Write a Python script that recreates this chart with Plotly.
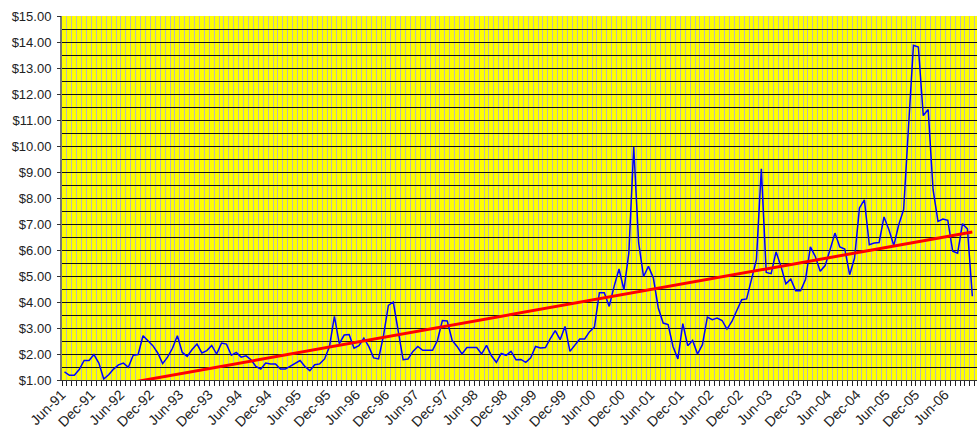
import numpy as np
import plotly.graph_objects as go

# Monthly prices, Jun-91 onwards (one value per month)
prices = [
    1.31, 1.18, 1.18, 1.40, 1.75, 1.75, 1.98, 1.65, 1.04, 1.20,
    1.42, 1.58, 1.65, 1.49, 1.95, 1.98, 2.70, 2.51, 2.32, 2.04,
    1.63, 1.88, 2.22, 2.70, 2.06, 1.91, 2.17, 2.38, 2.04, 2.13,
    2.33, 2.00, 2.42, 2.38, 1.95, 2.06, 1.88, 1.93, 1.78, 1.52,
    1.42, 1.65, 1.62, 1.62, 1.42, 1.42, 1.52, 1.65, 1.75, 1.52,
    1.36, 1.59, 1.62, 1.81, 2.29, 3.45, 2.40, 2.73, 2.75, 2.22,
    2.32, 2.61, 2.29, 1.85, 1.81, 2.70, 3.87, 4.00, 2.93, 1.78,
    1.81, 2.10, 2.29, 2.14, 2.14, 2.14, 2.52, 3.29, 3.27, 2.52,
    2.29, 2.00, 2.25, 2.25, 2.25, 2.00, 2.33, 1.93, 1.68, 2.02,
    1.95, 2.10, 1.78, 1.79, 1.68, 1.85, 2.29, 2.23, 2.25, 2.59,
    2.90, 2.55, 3.06, 2.10, 2.36, 2.58, 2.58, 2.86, 3.04, 4.36,
    4.36, 3.83, 4.60, 5.27, 4.47, 5.88, 9.96, 6.27, 4.98, 5.37,
    4.92, 3.77, 3.19, 3.13, 2.29, 1.81, 3.17, 2.32, 2.52, 2.00,
    2.36, 3.42, 3.32, 3.38, 3.29, 2.96, 3.25, 3.70, 4.09, 4.12,
    4.86, 5.63, 9.12, 5.14, 5.09, 5.93, 5.37, 4.70, 4.88, 4.43,
    4.43, 4.86, 6.12, 5.75, 5.18, 5.40, 6.01, 6.65, 6.12, 6.04,
    5.05, 5.69, 7.62, 7.93, 6.20, 6.27, 6.29, 7.27, 6.78, 6.17,
    6.97, 7.55, 10.75, 13.87, 13.81, 11.17, 11.40, 8.32, 7.10, 7.19,
    7.14, 5.95, 5.88, 7.01, 6.81, 4.22,
]

month_names = ["Jan", "Feb", "Mar", "Apr", "May", "Jun",
               "Jul", "Aug", "Sep", "Oct", "Nov", "Dec"]
start_year, start_month = 1991, 6
months = []
for k in range(len(prices)):
    m = start_month - 1 + k
    y = start_year + m // 12
    months.append(f"{month_names[m % 12]}-{y % 100:02d}")

tick_labels = months[::6]
y_tick_values = list(range(1, 16))
y_tick_labels = [f"${v:.2f}" for v in y_tick_values]
y_grid_values = [v / 2 for v in range(3, 30)]  # $1.50 ... $14.50

idx = np.arange(len(prices))
slope, intercept = np.polyfit(idx, np.array(prices), 1)
trend = slope * idx + intercept

fig = go.Figure()
fig.add_trace(go.Scatter(
    x=idx, y=prices, mode="lines",
    line=dict(color="#0000ff", width=1.5),
    hoverinfo="skip", showlegend=False,
))
fig.add_trace(go.Scatter(
    x=idx, y=trend, mode="lines",
    line=dict(color="#ff0000", width=3),
    hoverinfo="skip", showlegend=False,
))

fig.update_layout(
    width=977, height=429,
    margin=dict(l=62, r=0, t=16, b=49),
    paper_bgcolor="white",
    plot_bgcolor="#ffff00",
    font=dict(family="Liberation Sans, Arial, sans-serif", size=13, color="#222"),
    showlegend=False,
    xaxis=dict(
        range=[-0.51, 185.95],
        tickmode="array",
        tickvals=list(idx[::6]),
        ticktext=tick_labels,
        tickangle=-45,
        ticklabelshift=-3,
        ticks="",
        showgrid=False,
        zeroline=False,
        showline=True, linecolor="#333", linewidth=1,
        minor=dict(tick0=0.5, dtick=1, ticks="outside", ticklen=5,
                   tickcolor="#222", showgrid=True,
                   gridcolor="#bcbcb0", gridwidth=1),
        tickfont=dict(size=14),
    ),
    # grid-only axis (half-dollar lines, none at the top edge)
    yaxis=dict(
        range=[1, 15],
        tickmode="array",
        tickvals=y_grid_values,
        showticklabels=False,
        ticks="",
        showgrid=True, gridcolor="#111", gridwidth=1,
        zeroline=False,
        showline=True, linecolor="#777", linewidth=2,
    ),
    # labelled axis
    yaxis2=dict(
        range=[1, 15],
        overlaying="y", side="left", anchor="x",
        tickmode="array",
        tickvals=y_tick_values,
        ticktext=y_tick_labels,
        ticks="outside", ticklen=4, tickcolor="#333",
        ticklabelstandoff=3,
        showgrid=False, zeroline=False, showline=False,
        tickfont=dict(size=13),
    ),
)
# invisible trace so the labelled axis is drawn
fig.add_trace(go.Scatter(x=[None], y=[None], yaxis="y2", showlegend=False,
                         hoverinfo="skip"))

fig.write_html("out.html", config={"displayModeBar": False},
               post_script="document.body.style.margin='0';")
